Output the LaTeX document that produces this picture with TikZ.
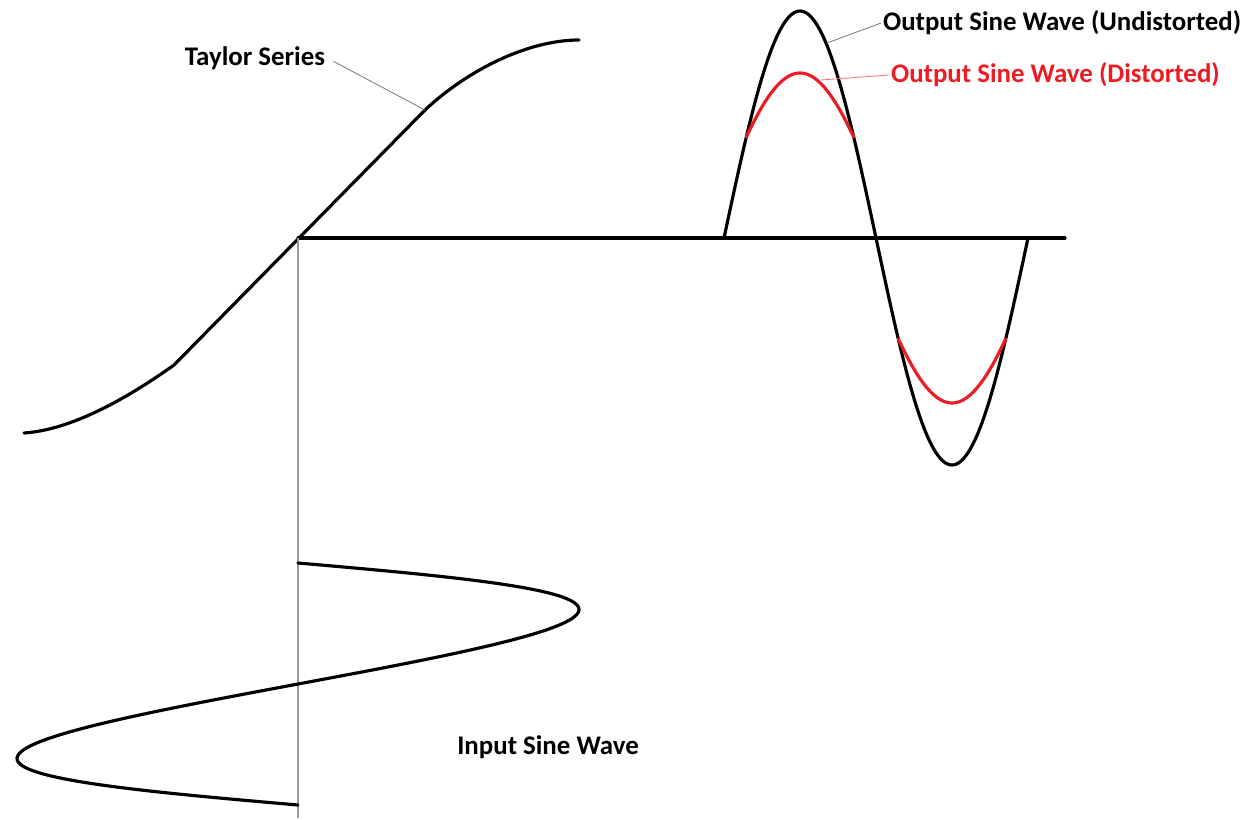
\documentclass[tikz,border=0pt]{standalone}
\usepackage{fontspec}
\setmainfont{Carlito}
\usepackage{tikz}
\usetikzlibrary{positioning,calc}
\definecolor{distred}{RGB}{236,28,36}
\tikzset{
  curve/.style={line width=1.8pt, draw=black, line join=round, line cap=round},
  redcurve/.style={line width=1.8pt, draw=distred, line cap=round},
  guide/.style={draw=gray!80, line width=0.6pt},
  leader/.style={draw=#1, line width=0.5pt},
  leader/.default=gray,
  lbl/.style={font=\fontsize{15.3}{18}\selectfont\bfseries, inner sep=1pt},
}
\begin{document}
\begin{tikzpicture}[x=0.02cm, y=-0.02cm]
  \useasboundingbox (0,0) rectangle (1244,819);
  % key points
  \coordinate (O) at (298,238);
  \coordinate (axisend) at (1065,238);
  \coordinate (vend) at (298,818);
  \coordinate (tstart) at (24,433);
  \coordinate (tlow) at (174,365);
  \coordinate (knee) at (425,110);
  \coordinate (tend) at (579,40);
  \coordinate (onblack) at (827,43);
  \coordinate (onred) at (821,80);
  % taylor series transfer curve
  \draw[curve] (tstart) .. controls (70,430) and (125,400) .. (tlow) -- (knee)
        .. controls (470,68) and (530,40) .. (tend);
  % axes
  \draw[curve] (O) -- (axisend);
  \draw[guide] (O) -- (vend);
  % output sine wave
  \draw[curve] plot[domain=0:360, samples=140, smooth] ({724+0.84444*\x}, {238-227*sin(\x)});
  \draw[redcurve] plot[domain=26.5:153.5, samples=60, smooth] ({724+0.84444*\x}, {238-101-115.5*(sin(\x)-0.446)});
  \draw[redcurve] plot[domain=206.5:333.5, samples=60, smooth] ({724+0.84444*\x}, {238+101+115.5*(-sin(\x)-0.446)});
  % input sine wave (sideways)
  \draw[curve] plot[domain=0:360, samples=160, smooth] ({298+281*sin(\x)}, {563+0.67222*\x-14*sin(\x)});
  % labels
  \node[lbl] (taylor) at (255,58) {Taylor Series};
  \node[lbl, anchor=west] (undist) at (881,23) {Output Sine Wave (Undistorted)};
  \node[lbl, anchor=west, text=distred] (dist) at (889,75) {Output Sine Wave (Distorted)};
  \node[lbl] (input) at (548,747) {Input Sine Wave};
  % leader lines
  \draw[leader, shorten >=4pt] (knee) -- (taylor.east);
  \draw[leader] (onblack) -- (undist.west);
  \draw[leader=distred!60] (onred) -- (dist.west);
\end{tikzpicture}
\end{document}
